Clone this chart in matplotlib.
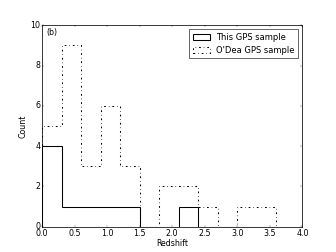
import numpy as np
import matplotlib
matplotlib.use('Agg')
import matplotlib.pyplot as plt

plt.style.use('classic')
plt.rcParams['font.size'] = 13.5
plt.rcParams['axes.linewidth'] = 1.3
plt.rcParams['xtick.major.pad'] = 3
plt.rcParams['ytick.major.pad'] = 3

edges = [0.0, 0.3, 0.6, 0.9, 1.2, 1.5, 1.8, 2.1, 2.4, 2.7, 3.0, 3.3, 3.6]
this_counts = [4, 1, 1, 1, 1, 0, 0, 1, 0, 0, 0, 0]
odea_counts = [5, 9, 3, 6, 3, 0, 2, 2, 1, 0, 1, 1]

centers = [(edges[i] + edges[i + 1]) / 2 for i in range(len(edges) - 1)]

fig = plt.figure(figsize=(8, 6), dpi=42)
ax = fig.add_subplot(111)
ax.hist(centers, bins=edges, weights=this_counts, histtype='step',
        color='k', linestyle='solid', linewidth=1.8, label='This GPS sample')
ax.hist(centers, bins=edges, weights=odea_counts, histtype='step',
        color='k', linestyle='dashdot', linewidth=1.8, label="O'Dea GPS sample")
ax.set_xlim(0, 4)
ax.set_ylim(0, 10)
ax.set_xlabel('Redshift', labelpad=2)
ax.set_ylabel('Count', labelpad=4)
ax.text(0.015, 0.985, '(b)', transform=ax.transAxes, va='top', ha='left')
ax.legend(loc='upper right', fontsize=14.4)

plt.savefig('out.png', dpi=42)
